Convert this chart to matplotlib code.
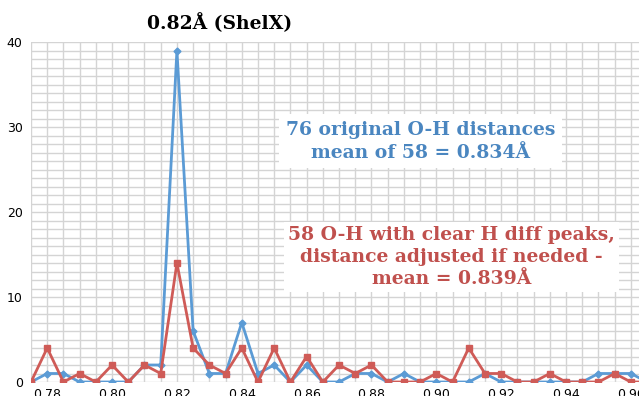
import matplotlib
matplotlib.use('Agg')
import matplotlib.pyplot as plt
import numpy as np

# --- dados ---
distancias = [0.775, 0.780, 0.785, 0.790, 0.795, 0.800, 0.805, 0.810, 0.815, 0.820,
              0.825, 0.830, 0.835, 0.840, 0.845, 0.850, 0.855, 0.860, 0.865, 0.870,
              0.875, 0.880, 0.885, 0.890, 0.895, 0.900, 0.905, 0.910, 0.915, 0.920,
              0.925, 0.930, 0.935, 0.940, 0.945, 0.950, 0.955, 0.960, 0.965]
originais = [0, 1, 1, 0, 0, 0, 0, 2, 2, 39,
             6, 1, 1, 7, 1, 2, 0, 2, 0, 0,
             1, 1, 0, 1, 0, 0, 0, 0, 1, 0,
             0, 0, 0, 0, 0, 1, 1, 1, 0]
ajustados = [0, 4, 0, 1, 0, 2, 0, 2, 1, 14,
             4, 2, 1, 4, 0, 4, 0, 3, 0, 2,
             1, 2, 0, 0, 0, 1, 0, 4, 1, 1,
             0, 0, 1, 0, 0, 0, 1, 0, 0]
xticks = [0.78, 0.80, 0.82, 0.84, 0.86, 0.88, 0.90, 0.92, 0.94, 0.96]
yticks = [0, 10, 20, 30, 40]

azul = '#5B9BD5'
vermelho = '#CF5B57'
azul_texto = '#4A86C0'
vermelho_texto = '#C0504D'

fig = plt.figure(figsize=(6.39, 3.96), dpi=100)
ax = fig.add_axes([31/639, 14/396, 608/639, 340/396])

ax.plot(distancias, originais, color=azul, lw=2, marker='D', ms=3.5, zorder=4)
ax.plot(distancias, ajustados, color=vermelho, lw=2, marker='s', ms=4.5, zorder=5)

ax.set_xlim(0.775, 0.9625)
ax.set_ylim(0, 40)
ax.set_xticks(np.arange(0.775, 0.965, 0.005), minor=True)
ax.set_yticks(np.arange(0, 41, 1), minor=True)
ax.set_xticks(xticks)
ax.set_xticklabels([f'{v:.2f}' for v in xticks])
ax.set_yticks(yticks)
ax.grid(which='both', color='#d4d4d4', lw=1, zorder=0)
ax.tick_params(which='both', length=0, labelsize=9, pad=4)
ax.tick_params(axis='y', pad=6)
for s in ax.spines.values():
    s.set_visible(False)

fonte = 'DejaVu Serif'
ax.text(0.8332, 42.2, '0.82Å (ShelX)', fontsize=13.5, fontweight='bold', family=fonte,
        ha='center', va='center', color='black', clip_on=False)

ax.text(0.8952, 28.3, '76 original O-H distances\nmean of 58 = 0.834Å', fontsize=13.5,
        fontweight='bold', family=fonte, color=azul_texto, ha='center', va='center',
        linespacing=1.3, zorder=6,
        bbox=dict(facecolor='white', edgecolor='none', pad=5))

ax.text(0.9046, 14.7, '58 O-H with clear H diff peaks,\ndistance adjusted if needed -\nmean = 0.839Å',
        fontsize=13.5, fontweight='bold', family=fonte, color=vermelho_texto, ha='center',
        va='center', linespacing=1.3, zorder=6,
        bbox=dict(facecolor='white', edgecolor='none', pad=3))

fig.savefig('out.png', dpi=100)
